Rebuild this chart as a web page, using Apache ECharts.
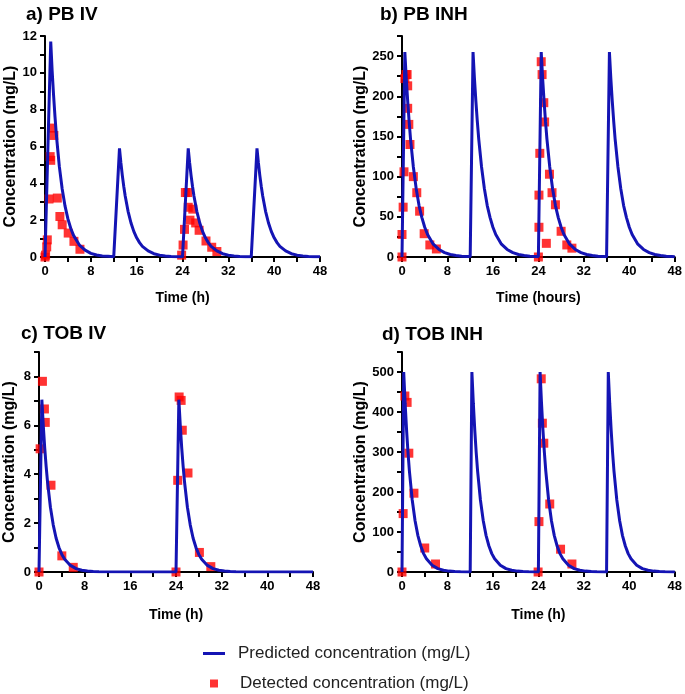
<!DOCTYPE html>
<html>
<head>
<meta charset="utf-8">
<script src="https://cdn.jsdelivr.net/npm/echarts@6/dist/echarts.min.js"></script>
<style>
  html, body { margin: 0; padding: 0; background: #fff; }
  #chart { width: 685px; height: 694px; }
</style>
</head>
<body>
<div id="chart"></div>
<script>
// predicted curves, [time (h), concentration]
var pbIvPredicted = [
  [0, 0], [1, 11.7], [1.25, 10.1], [1.5, 8.77], [1.75, 7.59], [2, 6.57], [2.5, 4.92], [3, 3.69], [3.5, 2.76], [4, 2.07], [4.5, 1.55], [5, 1.16], [6, 0.65], [7, 0.37], [8, 0.2], [9, 0.11], [10, 0.06], [11, 0.04], [12, 0.02],
  [13, 5.9], [13.25, 5.11], [13.5, 4.42], [13.75, 3.83], [14, 3.31], [14.5, 2.48], [15, 1.86], [15.5, 1.39], [16, 1.04], [16.5, 0.78], [17, 0.58], [18, 0.33], [19, 0.18], [20, 0.1], [21, 0.06], [22, 0.03], [23, 0.02], [24, 0.01],
  [25, 5.9], [25.25, 5.11], [25.5, 4.42], [25.75, 3.83], [26, 3.31], [26.5, 2.48], [27, 1.86], [27.5, 1.39], [28, 1.04], [28.5, 0.78], [29, 0.58], [30, 0.33], [31, 0.18], [32, 0.1], [33, 0.06], [34, 0.03], [35, 0.02], [36, 0.01],
  [37, 5.9], [37.25, 5.11], [37.5, 4.42], [37.75, 3.83], [38, 3.31], [38.5, 2.48], [39, 1.86], [39.5, 1.39], [40, 1.04], [40.5, 0.78], [41, 0.58], [42, 0.33], [43, 0.18], [44, 0.1], [45, 0.06], [46, 0.03], [47, 0.02], [48, 0.01]
];
var pbInhPredicted = [
  [0, 0], [0.5, 255], [0.75, 222], [1, 194], [1.25, 169], [1.5, 147], [2, 112], [2.5, 85], [3, 64], [3.5, 49], [4, 37], [4.5, 28], [5.5, 16], [6.5, 9.4], [7.5, 5.4], [8.5, 3.1], [9.5, 1.8], [10.5, 1.0], [11.5, 0.6], [12, 0.4],
  [12.5, 255], [12.75, 222], [13, 194], [13.25, 169], [13.5, 147], [14, 112], [14.5, 85], [15, 64], [15.5, 49], [16, 37], [16.5, 28], [17.5, 16], [18.5, 9.4], [19.5, 5.4], [20.5, 3.1], [21.5, 1.8], [22.5, 1.0], [23.5, 0.6], [24, 0.4],
  [24.5, 255], [24.75, 222], [25, 194], [25.25, 169], [25.5, 147], [26, 112], [26.5, 85], [27, 64], [27.5, 49], [28, 37], [28.5, 28], [29.5, 16], [30.5, 9.4], [31.5, 5.4], [32.5, 3.1], [33.5, 1.8], [34.5, 1.0], [35.5, 0.6], [36, 0.4],
  [36.5, 255], [36.75, 222], [37, 194], [37.25, 169], [37.5, 147], [38, 112], [38.5, 85], [39, 64], [39.5, 49], [40, 37], [40.5, 28], [41.5, 16], [42.5, 9.4], [43.5, 5.4], [44.5, 3.1], [45.5, 1.8], [46.5, 1.0], [47.5, 0.6], [48, 0.4]
];
var tobIvPredicted = [
  [0, 0], [0.5, 7.05], [0.75, 5.99], [1, 5.08], [1.25, 4.32], [1.5, 3.67], [2, 2.65], [2.5, 1.92], [3, 1.38], [3.5, 1.0], [4, 0.72], [4.5, 0.52], [5.5, 0.27], [6.5, 0.14], [7.5, 0.07], [8.5, 0.04], [9.5, 0.02], [10.5, 0.01], [24, 0],
  [24.5, 7.05], [24.75, 5.99], [25, 5.08], [25.25, 4.32], [25.5, 3.67], [26, 2.65], [26.5, 1.92], [27, 1.38], [27.5, 1.0], [28, 0.72], [28.5, 0.52], [29.5, 0.27], [30.5, 0.14], [31.5, 0.07], [32.5, 0.04], [33.5, 0.02], [34.5, 0.01], [48, 0]
];
var tobInhPredicted = [
  [0, 0], [0.3, 500], [0.55, 422], [0.8, 356], [1.05, 300], [1.3, 253], [1.8, 180], [2.3, 128], [2.8, 91], [3.3, 65], [3.8, 46], [4.3, 33], [5.3, 17], [6.3, 8.4], [7.3, 4.3], [8.3, 2.2], [9.3, 1.1], [10.3, 0.6], [12, 0.2],
  [12.3, 500], [12.55, 422], [12.8, 356], [13.05, 300], [13.3, 253], [13.8, 180], [14.3, 128], [14.8, 91], [15.3, 65], [15.8, 46], [16.3, 33], [17.3, 17], [18.3, 8.4], [19.3, 4.3], [20.3, 2.2], [21.3, 1.1], [22.3, 0.6], [24, 0.2],
  [24.3, 500], [24.55, 422], [24.8, 356], [25.05, 300], [25.3, 253], [25.8, 180], [26.3, 128], [26.8, 91], [27.3, 65], [27.8, 46], [28.3, 33], [29.3, 17], [30.3, 8.4], [31.3, 4.3], [32.3, 2.2], [33.3, 1.1], [34.3, 0.6], [36, 0.2],
  [36.3, 500], [36.55, 422], [36.8, 356], [37.05, 300], [37.3, 253], [37.8, 180], [38.3, 128], [38.8, 91], [39.3, 65], [39.8, 46], [40.3, 33], [41.3, 17], [42.3, 8.4], [43.3, 4.3], [44.3, 2.2], [45.3, 1.1], [46.3, 0.6], [48, 0.2]
];

// detected concentrations (red squares)
var pbIvDetected = [
  [0, 0], [0.1, 0.1], [0.3, 0.55], [0.4, 0.93], [0.7, 3.15], [0.9, 5.45], [1.0, 5.25], [1.15, 7.0], [1.55, 6.6], [2.15, 3.2], [2.6, 2.2], [3.0, 1.75], [4.05, 1.3], [5.05, 0.85], [6.1, 0.42],
  [23.85, 0.1], [24.1, 0.65], [24.35, 1.5], [24.5, 3.5], [24.9, 3.5], [25.0, 2.7], [25.3, 2.0], [25.8, 2.6], [26.3, 1.85], [26.9, 1.45], [28.1, 0.87], [29.1, 0.53], [30.0, 0.3]
];
var pbInhDetected = [
  [0, 0], [0, 28], [0.2, 62], [0.35, 106], [0.5, 222], [0.7, 227], [0.9, 227], [1.0, 213], [1.0, 185], [1.2, 165], [1.4, 140], [2.0, 100], [2.6, 80], [3.1, 57], [3.9, 29], [4.9, 15], [6.05, 10],
  [24, 0], [24.1, 37], [24.1, 77], [24.25, 129], [24.5, 243], [24.65, 227], [24.95, 192], [25.1, 168], [25.4, 17], [25.95, 103], [26.4, 80], [27.0, 65], [28.0, 32], [29.0, 15], [29.9, 11]
];
var tobIvDetected = [
  [0, 0], [0.2, 5.04], [0.6, 7.8], [0.95, 6.67], [1.1, 6.12], [2.1, 3.55], [4.0, 0.66], [6.0, 0.19],
  [24.0, 0], [24.3, 3.75], [24.55, 7.16], [24.9, 7.02], [25.1, 5.8], [26.1, 4.05], [28.1, 0.8], [30.1, 0.22]
];
var tobInhDetected = [
  [0, 0], [0.2, 146], [0.5, 440], [0.9, 424], [1.2, 297], [2.1, 197], [4.0, 60], [5.9, 20],
  [23.95, 0], [24.1, 126], [24.5, 483], [24.7, 372], [24.95, 322], [26.0, 170], [27.9, 57], [29.9, 20]
];

var panelTitles = ['a) PB IV', 'b) PB INH', 'c) TOB IV', 'd) TOB INH'];
var xAxisNames = ['Time (h)', 'Time (hours)', 'Time (h)', 'Time (h)'];
var yMax = [12, 275, 9, 550];
var yStep = [1, 25, 1, 50];
var yLabelStep = [2, 50, 2, 100];
var predictedName = 'Predicted concentration (mg/L)';
var detectedName = 'Detected concentration (mg/L)';

var font = '"Liberation Sans", Arial, sans-serif';
var lineColor = '#1414B4';
var dotColor = '#FF0000';

var grids = [
  { left: 45, right: 365, top: 36, bottom: 437 },
  { left: 402, right: 8, top: 36, bottom: 437 },
  { left: 39, right: 372, top: 352, bottom: 122 },
  { left: 402, right: 7, top: 352, bottom: 122 }
];
var yNameGaps = [26, 33, 21, 33];
var xNameGaps = [34, 34, 36, 36];
var titlePos = [[26, 5], [380, 5], [21, 324], [382, 325]];

var predicted = [pbIvPredicted, pbInhPredicted, tobIvPredicted, tobInhPredicted];
var detected = [pbIvDetected, pbInhDetected, tobIvDetected, tobInhDetected];

var axisLine = { show: true, onZero: false, lineStyle: { color: '#000', width: 2 } };
var axisTick = { show: true, inside: false, length: 5, lineStyle: { color: '#000', width: 2 } };

var chart = echarts.init(document.getElementById('chart'));

chart.setOption({
  animation: false,
  backgroundColor: '#fff',
  title: panelTitles.map((t, i) => ({
    text: t,
    left: titlePos[i][0],
    top: titlePos[i][1],
    padding: 0,
    textStyle: { fontSize: 19, fontWeight: 'bold', color: '#000', fontFamily: font }
  })),
  grid: grids,
  legend: [
    {
      data: [{ name: predictedName, icon: 'rect' }],
      left: 203,
      top: 645,
      padding: 0,
      itemWidth: 22,
      itemHeight: 3,
      selectedMode: false,
      textStyle: { fontSize: 17, color: '#222', fontFamily: font, padding: [0, 0, 0, 8] }
    },
    {
      data: [{ name: detectedName, icon: 'rect' }],
      left: 210,
      top: 675,
      padding: 0,
      itemWidth: 8,
      itemHeight: 8,
      selectedMode: false,
      textStyle: { fontSize: 17, color: '#222', fontFamily: font, padding: [0, 0, 0, 17] }
    }
  ],
  xAxis: grids.map((g, i) => ({
    type: 'value',
    gridIndex: i,
    min: 0,
    max: 48,
    interval: 4,
    name: xAxisNames[i],
    nameLocation: 'middle',
    nameGap: xNameGaps[i],
    nameTextStyle: { fontSize: 14, fontWeight: 'bold', color: '#000', fontFamily: font },
    axisLine: axisLine,
    axisTick: axisTick,
    splitLine: { show: false },
    axisLabel: {
      margin: 8,
      fontSize: 13,
      fontWeight: 'bold',
      color: '#000',
      fontFamily: font,
      formatter: v => (v % 8 === 0 ? String(v) : '')
    }
  })),
  yAxis: grids.map((g, i) => ({
    type: 'value',
    gridIndex: i,
    min: 0,
    max: yMax[i],
    interval: yStep[i],
    name: 'Concentration (mg/L)',
    nameLocation: 'middle',
    nameGap: yNameGaps[i],
    nameTextStyle: { fontSize: 16, fontWeight: 'bold', color: '#000', fontFamily: font },
    axisLine: axisLine,
    axisTick: axisTick,
    splitLine: { show: false },
    axisLabel: {
      margin: 8,
      fontSize: 13,
      fontWeight: 'bold',
      color: '#000',
      fontFamily: font,
      formatter: v => (v % yLabelStep[i] === 0 ? String(v) : '')
    }
  })),
  series: [].concat(
    detected.map((d, i) => ({
      type: 'scatter',
      name: detectedName,
      xAxisIndex: i,
      yAxisIndex: i,
      symbol: 'rect',
      symbolSize: 9,
      itemStyle: { color: dotColor },
      z: 2,
      data: d
    })),
    predicted.map((d, i) => ({
      type: 'line',
      name: predictedName,
      xAxisIndex: i,
      yAxisIndex: i,
      showSymbol: false,
      symbol: 'none',
      itemStyle: { color: lineColor },
      lineStyle: { color: lineColor, width: 3 },
      z: 3,
      data: d
    }))
  )
});
</script>
</body>
</html>
